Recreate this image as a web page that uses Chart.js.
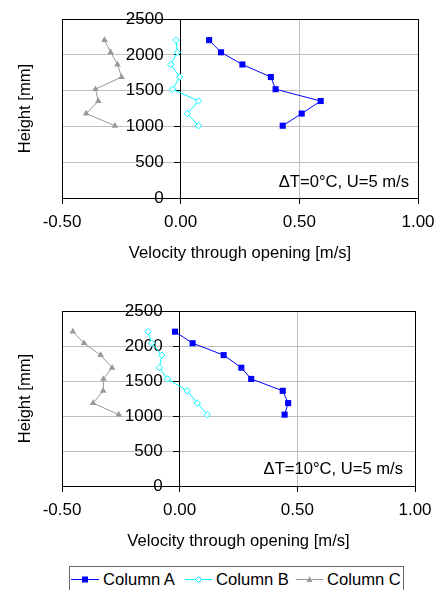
<!DOCTYPE html>
<html>
<head>
<meta charset="utf-8">
<script src="https://cdn.jsdelivr.net/npm/chart.js@4/dist/chart.umd.min.js"></script>
<style>
  body { margin: 0; width: 448px; height: 590px; background: #fff; position: relative; overflow: hidden;
         font-family: "Liberation Sans", Arial, sans-serif; }
  .box { position: absolute; left: 0; width: 448px; }
  #legend { position: absolute; left: 69px; top: 566px; width: 335px; height: 30px; border: 1px solid #666;
            box-sizing: border-box; font-size: 16.6px; color: #000; }
  #legend .item { position: absolute; top: 3px; height: 19px; line-height: 19px; white-space: nowrap; }
  #legend svg { vertical-align: top; margin-right: 4px; }
</style>
</head>
<body>
<div class="box" style="top:0;height:280px"><canvas id="c1"></canvas></div>
<div class="box" style="top:290px;height:275px"><canvas id="c2"></canvas></div>
<div id="legend">
  <div class="item" style="left:1px"><svg width="28" height="19"><line x1="0" y1="9.5" x2="28" y2="9.5" stroke="#0000ff"/><rect x="11" y="6.5" width="6" height="6" fill="#0000ff"/></svg>Column A</div>
  <div class="item" style="left:115px"><svg width="27" height="19"><line x1="0" y1="9.5" x2="27" y2="9.5" stroke="#00ffff"/><path d="M13.5 6.5 L16.5 9.5 L13.5 12.5 L10.5 9.5 Z" fill="#fff" stroke="#00ffff"/></svg>Column B</div>
  <div class="item" style="left:226px"><svg width="27" height="19"><line x1="0" y1="9.5" x2="27" y2="9.5" stroke="#999999"/><path d="M13.5 6 L16.5 12 L10.5 12 Z" fill="#999999"/></svg>Column C</div>
</div>
<script>
// heights of the measuring points [mm]
const heights0 = [1010, 1180, 1355, 1520, 1690, 1865, 2035, 2205];
const heights10 = [1020, 1185, 1360, 1530, 1690, 1870, 2040, 2205];

// dT = 0 C, U = 5 m/s
const colA0 = [0.43, 0.51, 0.59, 0.40, 0.38, 0.26, 0.17, 0.12];
const colB0 = [0.075, 0.028, 0.075, -0.034, -0.004, -0.041, -0.014, -0.020];
const colC0 = [-0.277, -0.398, -0.347, -0.359, -0.249, -0.266, -0.295, -0.321];

// dT = 10 C, U = 5 m/s
const colA10 = [0.446, 0.461, 0.438, 0.304, 0.262, 0.187, 0.055, -0.020];
const colB10 = [0.117, 0.075, 0.032, -0.052, -0.086, -0.076, -0.119, -0.134];
const colC10 = [-0.259, -0.368, -0.325, -0.324, -0.287, -0.336, -0.406, -0.454];

const xTicks = [-0.5, 0, 0.5, 1.0];
const yTicks = [0, 500, 1000, 1500, 2000, 2500];

Chart.defaults.font.family = '"Liberation Sans", Arial, sans-serif';
Chart.defaults.font.size = 16.6;
Chart.defaults.color = '#000';

// box round the plot area and the condition text
const frame = {
    id: 'frame',
    afterDraw(chart, args, opts) {
        const { ctx, chartArea: a } = chart;
        ctx.save();
        ctx.strokeStyle = '#000';
        ctx.lineWidth = 1;
        ctx.strokeRect(Math.round(a.left) + 0.5, Math.round(a.top) + 0.5,
                       Math.round(a.right - a.left), Math.round(a.bottom - a.top));
        ctx.fillStyle = '#000';
        ctx.font = '16.6px "Liberation Sans", Arial, sans-serif';
        ctx.textAlign = 'right';
        ctx.textBaseline = 'middle';
        ctx.fillText(opts.text, a.right - opts.dx, a.bottom - opts.dy);
        ctx.restore();
    }
};

function toPoints(xs, ys) {
    return xs.map((v, i) => ({ x: v, y: ys[i] }));
}

function makeChart(id, heights, a, b, c, note, padding) {
    return new Chart(document.getElementById(id), {
        type: 'scatter',
        data: {
            datasets: [{
                label: 'Column A',
                data: toPoints(a, heights),
                showLine: true,
                borderColor: '#0000ff',
                backgroundColor: '#0000ff',
                borderWidth: 1,
                pointStyle: 'rect',
                pointRadius: 4.3,
                pointBorderWidth: 0
            }, {
                label: 'Column B',
                data: toPoints(b, heights),
                showLine: true,
                borderColor: '#00ffff',
                backgroundColor: '#ffffff',
                borderWidth: 1,
                pointStyle: 'rectRot',
                pointRadius: 3.2,
                pointBorderWidth: 1
            }, {
                label: 'Column C',
                data: toPoints(c, heights),
                showLine: true,
                borderColor: '#999999',
                backgroundColor: '#999999',
                borderWidth: 1,
                pointStyle: 'triangle',
                pointRadius: 3.8,
                pointBorderWidth: 0
            }]
        },
        options: {
            animation: false,
            responsive: true,
            maintainAspectRatio: false,
            layout: { padding: padding },
            plugins: {
                legend: { display: false },
                tooltip: { enabled: false },
                frame: note
            },
            scales: {
                x: {
                    type: 'linear',
                    position: 'bottom',
                    min: -0.5,
                    max: 1.0,
                    afterBuildTicks: s => { s.ticks = xTicks.map(v => ({ value: v })); },
                    afterFit: s => { s.paddingLeft = 0; s.paddingRight = 0; },
                    ticks: { padding: 8, font: { size: 17 }, callback: v => v.toFixed(2) },
                    grid: {
                        color: ctx => ctx.tick && ctx.tick.value === 0.5 ? '#c0c0c0' : 'rgba(0,0,0,0)',
                        tickColor: '#000',
                        tickLength: 6
                    },
                    border: { color: '#000' },
                    title: { display: true, text: 'Velocity through opening [m/s]', padding: { top: 3, bottom: 4 } }
                },
                y: {
                    type: 'linear',
                    position: { x: 0 },
                    min: 0,
                    max: 2500,
                    afterBuildTicks: s => { s.ticks = yTicks.map(v => ({ value: v })); },
                    afterFit: s => { s.width = 0; s.paddingTop = 0; s.paddingBottom = 0; },
                    // labels sit right on the axis line when it is placed at x=0, so pad them with an em space
                    ticks: { font: { size: 17 }, callback: v => String(v) + '\u2003' },
                    grid: {
                        color: ctx => ctx.tick && ctx.tick.value > 0 && ctx.tick.value < 2500 ? '#c0c0c0' : 'rgba(0,0,0,0)',
                        tickColor: '#000',
                        tickLength: 6
                    },
                    border: { color: '#000' }
                },
                yt: {
                    type: 'linear',
                    position: 'left',
                    min: 0,
                    max: 1,
                    afterFit: s => { s.width = 51; },
                    ticks: { display: false },
                    grid: { display: false },
                    border: { display: false },
                    title: { display: true, text: 'Height [mm]', padding: { top: 4, bottom: 4 } }
                }
            }
        },
        plugins: [frame]
    });
}

makeChart('c1', heights0, colA0, colB0, colC0,
    { text: '\u0394T=0\u00b0C, U=5 m/s', dx: 9, dy: 16 },
    { top: 19, bottom: 12.6, left: 11, right: 30 });
makeChart('c2', heights10, colA10, colB10, colC10,
    { text: '\u0394T=10\u00b0C, U=5 m/s', dx: 12, dy: 17 },
    { top: 21, bottom: 9.6, left: 11, right: 33 });
</script>
</body>
</html>
